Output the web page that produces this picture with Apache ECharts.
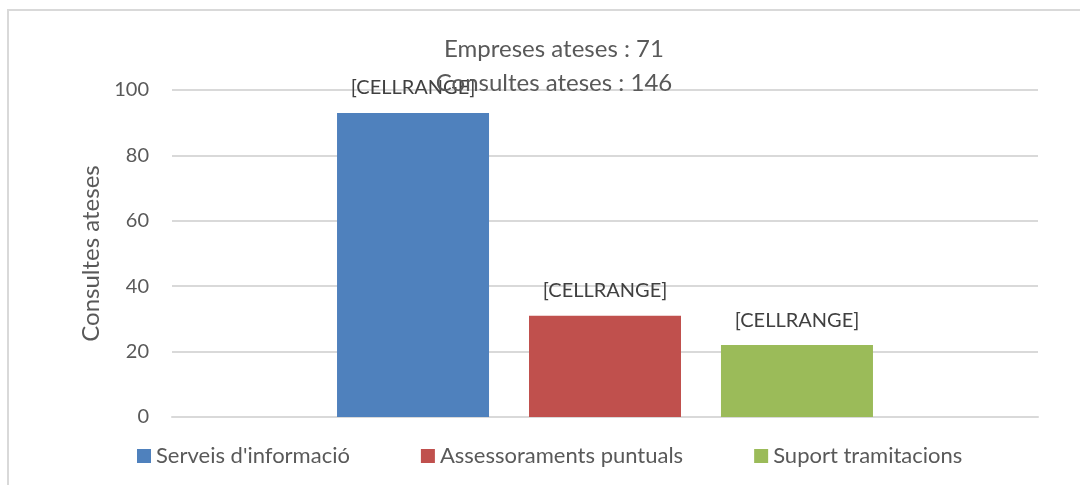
<!DOCTYPE html>
<html>
<head>
<meta charset="utf-8">
<script src="https://cdn.jsdelivr.net/npm/echarts@6/dist/echarts.min.js"></script>
<style>
html, body { margin: 0; padding: 0; background: #fff; }
#chart { width: 1080px; height: 485px; }
</style>
</head>
<body>
<div id="chart"></div>
<script>
// dades
var categories = ['Consultes'];
var seriesNames = ["Serveis d'informació", 'Assessoraments puntuals', 'Suport tramitacions'];
var seriesValues = [93, 31, 22];
var seriesColors = ['#4f81bd', '#c0504d', '#9bbb59'];
var yTicks = [0, 20, 40, 60, 80, 100];
var titleLines = ['Empreses ateses : 71', 'Consultes ateses : 146'];

var font = 'Lato';
var textColor = '#595959';

var series = [];
for (var i = 0; i < seriesNames.length; i++) {
    series.push({
        name: seriesNames[i],
        type: 'bar',
        barWidth: 152,
        barGap: '26.3%',
        itemStyle: { color: seriesColors[i] },
        label: {
            show: true,
            position: 'top',
            distance: 15,
            formatter: '[CELLRANGE]',
            color: '#404040',
            fontFamily: font,
            fontSize: 20
        },
        data: [seriesValues[i]]
    });
}

var myChart = echarts.init(document.getElementById('chart'));
myChart.setOption({
    animation: false,
    backgroundColor: '#fff',
    title: {
        text: titleLines.join('\n'),
        left: 549,
        top: 27,
        textAlign: 'center',
        textStyle: {
            color: textColor,
            fontFamily: font,
            fontWeight: 'normal',
            fontSize: 24,
            lineHeight: 34
        }
    },
    graphic: [{
        type: 'rect',
        shape: { x: 8, y: 10, width: 1100, height: 500 },
        style: { fill: 'none', stroke: '#d9d9d9', lineWidth: 2 },
        silent: true
    }],
    legend: {
        bottom: 18,
        left: 137,
        padding: 0,
        itemWidth: 14,
        itemHeight: 14,
        itemGap: 71,
        icon: 'rect',
        textStyle: { color: textColor, fontFamily: font, fontSize: 22 },
        data: seriesNames
    },
    grid: { left: 172, right: 42, top: 90, bottom: 68 },
    xAxis: {
        type: 'category',
        data: categories,
        axisLine: { lineStyle: { color: '#d9d9d9', width: 2 } },
        axisTick: { show: false },
        axisLabel: { show: false }
    },
    yAxis: {
        type: 'value',
        min: yTicks[0],
        max: yTicks[yTicks.length - 1],
        interval: 20,
        name: 'Consultes ateses',
        nameLocation: 'middle',
        nameGap: 64,
        nameTextStyle: { color: textColor, fontFamily: font, fontSize: 24 },
        axisLine: { show: false },
        axisTick: { show: false },
        axisLabel: { color: textColor, fontFamily: font, fontSize: 20, margin: 23 },
        splitLine: { lineStyle: { color: '#d9d9d9', width: 2 } }
    },
    series: series
});
</script>
</body>
</html>
